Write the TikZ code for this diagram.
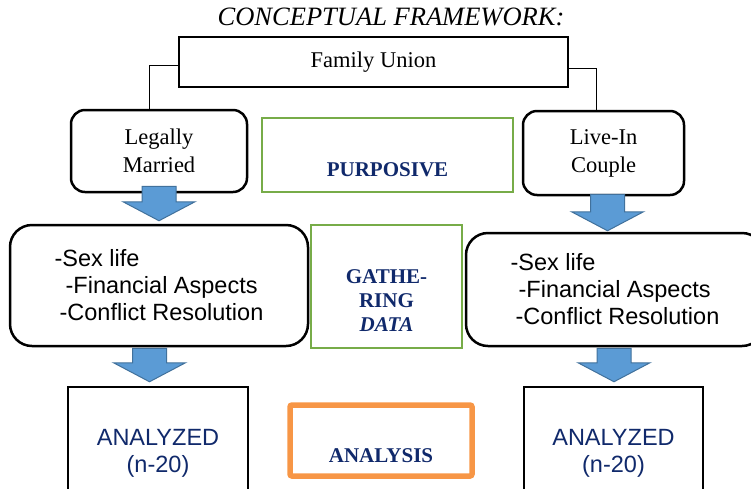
\documentclass[tikz,border=0pt]{standalone}
\usepackage{fontspec}
\setmainfont{Liberation Serif}
\setsansfont{Liberation Sans}
\usetikzlibrary{calc}

\definecolor{navy}{HTML}{10296B}
\definecolor{boxgreen}{HTML}{77AC48}
\definecolor{boxorange}{HTML}{F79646}
\definecolor{arrowblue}{HTML}{5B9BD5}
\definecolor{arrowedge}{HTML}{41719C}

\tikzset{
  blackbox/.style={draw=black, line width=2.5pt, inner sep=0pt, align=center},
  roundbox/.style={blackbox, rounded corners=14pt, font=\fontsize{22.5}{28}\selectfont},
  listbox/.style={blackbox, rounded corners=22pt, align=left, font=\sffamily\fontsize{23.5}{27}\selectfont},
  greenbox/.style={draw=boxgreen, line width=2.5pt},
  orangebox/.style={draw=boxorange, line width=5.5pt, rounded corners=2pt},
  navybold/.style={text=navy, font=\bfseries\fontsize{21}{24}\selectfont, align=center},
  navysans/.style={text=navy, font=\sffamily\fontsize{23.5}{27}\selectfont, align=center},
  link/.style={line width=1pt},
  bluearrow/.style={fill=arrowblue, draw=arrowedge, line width=1pt, line join=miter}
}

\newcommand{\blockarrow}[2]{%
  \draw[bluearrow] ($(#1)+(-17,0)$) -- ($(#2)+(-17,-19)$) -- ($(#2)+(-36,-19)$)
    -- (#2) -- ($(#2)+(36,-19)$) -- ($(#2)+(17,-19)$) -- ($(#1)+(17,0)$) -- cycle;}

\begin{document}
\begin{tikzpicture}[x=1pt, y=-1pt]
\useasboundingbox (0,0) rectangle (751,488);
\clip (0,0) rectangle (751,488);

\node[font=\itshape\fontsize{26.5}{30}\selectfont] (title) at (391,17) {CONCEPTUAL FRAMEWORK:};
\node[blackbox, font=\fontsize{22.5}{28}\selectfont, minimum width=389pt, minimum height=50pt] (union) at (373.5,62) {Family Union};

\node[roundbox, minimum width=176pt, minimum height=82pt] (legal) at (159,151) {Legally\\Married};
\node[roundbox, minimum width=161pt, minimum height=84pt] (livein) at (603.5,153) {Live-In\\Couple};
\node[greenbox, minimum width=251pt, minimum height=74pt] (purp) at (387.5,155) {};
\node[navybold] (purptext) at ([yshift=-15pt]purp.center) {PURPOSIVE};

\node[listbox, minimum width=298pt, minimum height=121pt] (leftmid) at (159,285.5)
  {-Sex life\\\hspace*{11pt}-Financial Aspects\\\hspace*{5pt}-Conflict Resolution};
\node[listbox, minimum width=298pt, minimum height=113pt] (rightmid) at (615,289.5)
  {-Sex life\\\hspace*{8pt}-Financial Aspects\\\hspace*{5pt}-Conflict Resolution};
\node[greenbox, minimum width=151pt, minimum height=123pt] (gather) at (386.5,286.5) {};
\node[navybold] (gathertext) at ([yshift=-14.5pt]gather.center) {GATHE-\\RING\\\textit{DATA}};

\node[blackbox, minimum width=180pt, minimum height=133pt, navysans] (leftbot) at (158,453.5) {ANALYZED\\(n-20)};
\node[blackbox, minimum width=179pt, minimum height=133pt, navysans] (rightbot) at (613.5,453.5) {ANALYZED\\(n-20)};
\node[orangebox, minimum width=182pt, minimum height=71pt] (analysis) at (381,440.5) {};
\node[navybold] (analysistext) at ([yshift=-15.5pt]analysis.center) {ANALYSIS};

\draw[link] ([yshift=-3pt]union.west) -| ([xshift=-10pt]legal.north);
\draw[link] ([yshift=-6pt]union.east) -| ([xshift=-7.5pt]livein.north);

\coordinate (t1) at ([yshift=7pt]legal.south);
\coordinate (h1) at ([yshift=3pt]t1 |- leftmid.north);
\coordinate (t2) at ([xshift=4pt,yshift=2pt]livein.south);
\coordinate (h2) at ([yshift=1pt]t2 |- rightmid.north);
\coordinate (t3) at ([xshift=-9.5pt,yshift=-1pt]leftmid.south);
\coordinate (h3) at ([yshift=4pt]t3 |- leftbot.north);
\coordinate (t4) at ([xshift=-1pt,yshift=-1pt]rightmid.south);
\coordinate (h4) at ([yshift=4pt]t4 |- rightbot.north);
\foreach \n in {1,...,4} \blockarrow{t\n}{h\n};
\end{tikzpicture}
\end{document}
